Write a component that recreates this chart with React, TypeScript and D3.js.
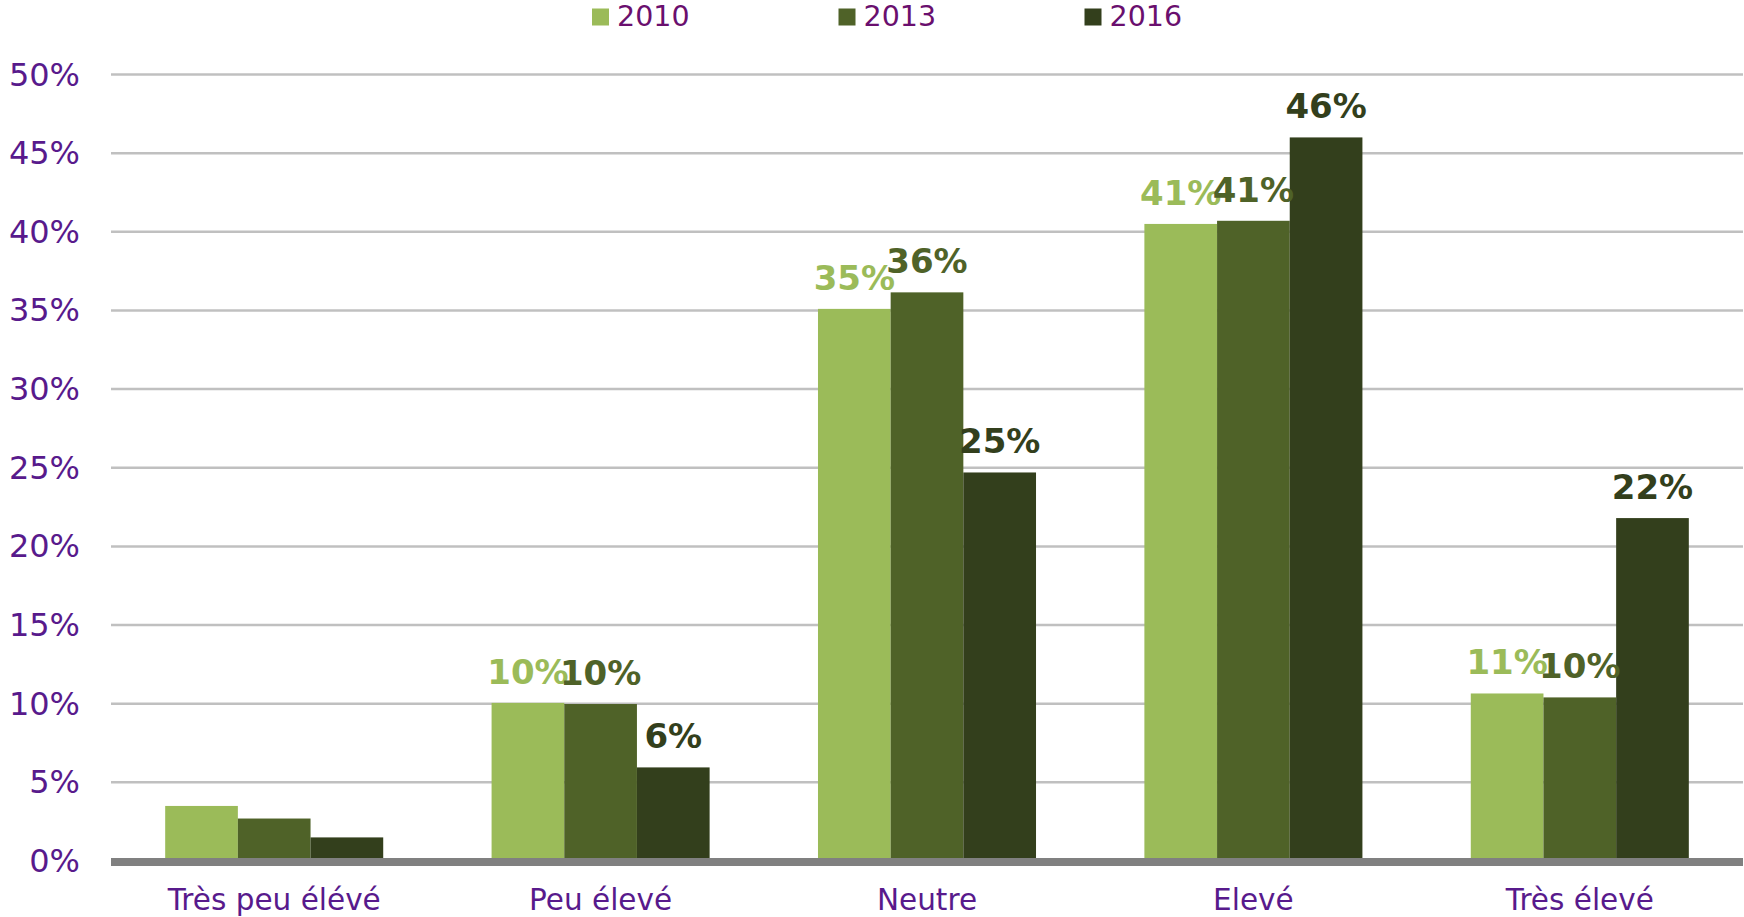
import React, { useEffect, useRef } from 'react';
import * as d3 from 'd3';

// data
const categories = ['Très peu élévé', 'Peu élevé', 'Neutre', 'Elevé', 'Très élevé'];
const seriesNames = ['2010', '2013', '2016'];
const values2010 = [0.035, 0.1005, 0.351, 0.405, 0.1065];
const values2013 = [0.027, 0.0998, 0.3615, 0.407, 0.104];
const values2016 = [0.015, 0.0595, 0.247, 0.46, 0.218];
const showLabels = [false, true, true, true, true];
const yTicks = [0, 0.05, 0.1, 0.15, 0.2, 0.25, 0.3, 0.35, 0.4, 0.45, 0.5];

const colors = ['#9bbb59', '#4f6228', '#333f1c'];
const FONT = '"DejaVu Sans", Verdana, sans-serif';

const App = () => {
  const svgRef = useRef<SVGSVGElement | null>(null);
  const width = 1744;
  const height = 917;

  useEffect(() => {
    const svg = d3.select(svgRef.current);
    svg.selectAll('*').remove();

    const left = 111;
    const right = 1743;
    const zeroY = 861;
    const topY = 74.5;

    const series = [values2010, values2013, values2016];

    const x0 = d3.scaleBand<string>()
      .domain(categories)
      .range([left, right])
      .paddingInner(0.332)
      .paddingOuter(0.166);

    const x1 = d3.scaleBand<string>()
      .domain(seriesNames)
      .range([0, x0.bandwidth()]);

    const y = d3.scaleLinear().domain([0, 0.5]).range([zeroY, topY]);

    // gridlines
    svg.append('g')
      .selectAll('line')
      .data(yTicks.filter(t => t > 0))
      .enter()
      .append('line')
      .attr('x1', left)
      .attr('x2', right)
      .attr('y1', d => y(d))
      .attr('y2', d => y(d))
      .attr('stroke', '#c0c0c0')
      .attr('stroke-width', 2.5);

    // tick labels
    svg.append('g')
      .selectAll('text')
      .data(yTicks)
      .enter()
      .append('text')
      .attr('x', 80)
      .attr('y', d => y(d) + 11)
      .attr('text-anchor', 'end')
      .attr('font-family', FONT)
      .attr('font-size', 32)
      .attr('fill', '#581a8c')
      .text(d => d3.format('.0%')(d));

    // bars
    const groups = svg.append('g')
      .selectAll('g')
      .data(categories)
      .enter()
      .append('g')
      .attr('transform', d => `translate(${x0(d)},0)`);

    groups.selectAll('rect')
      .data((d, i) => series.map((s, k) => ({ name: seriesNames[k], value: s[i], k })))
      .enter()
      .append('rect')
      .attr('x', d => x1(d.name) as number)
      .attr('y', d => y(d.value))
      .attr('width', x1.bandwidth())
      .attr('height', d => zeroY - y(d.value))
      .attr('fill', d => colors[d.k]);

    // category axis line
    svg.append('line')
      .attr('x1', left)
      .attr('x2', right)
      .attr('y1', zeroY + 1)
      .attr('y2', zeroY + 1)
      .attr('stroke', '#808080')
      .attr('stroke-width', 8);

    // category labels
    svg.append('g')
      .selectAll('text')
      .data(categories)
      .enter()
      .append('text')
      .attr('x', d => (x0(d) as number) + x0.bandwidth() / 2)
      .attr('y', 910)
      .attr('text-anchor', 'middle')
      .attr('font-family', FONT)
      .attr('font-size', 29.5)
      .attr('fill', '#581a8c')
      .text(d => d);

    // data labels, drawn per series so later ones overlap earlier ones
    const labels = svg.append('g');
    series.forEach((s, k) => {
      labels.selectAll(`.lbl-${k}`)
        .data(categories.map((c, i) => ({ c, v: s[i], show: showLabels[i] })).filter(d => d.show))
        .enter()
        .append('text')
        .attr('class', `lbl-${k}`)
        .attr('x', d => (x0(d.c) as number) + (x1(seriesNames[k]) as number) + x1.bandwidth() / 2)
        .attr('y', d => y(d.v) - 19)
        .attr('text-anchor', 'middle')
        .attr('font-family', FONT)
        .attr('font-weight', 'bold')
        .attr('font-size', 34)
        .attr('fill', colors[k])
        .text(d => `${Math.round(d.v * 100)}%`);
    });

    // legend
    const legendX = [592, 838.5, 1084.5];
    const legend = svg.append('g')
      .selectAll('g')
      .data(seriesNames)
      .enter()
      .append('g')
      .attr('transform', (d, i) => `translate(${legendX[i]},0)`);

    legend.append('rect')
      .attr('x', 0)
      .attr('y', 8.5)
      .attr('width', 17)
      .attr('height', 17)
      .attr('fill', (d, i) => colors[i]);

    legend.append('text')
      .attr('x', 25)
      .attr('y', 26)
      .attr('font-family', FONT)
      .attr('font-size', 28.5)
      .attr('fill', '#6a0f6e')
      .text(d => d);
  }, []);

  return (
    <div style={{ position: 'fixed', left: 0, top: 0, background: '#fff' }}>
      <svg ref={svgRef} width={width} height={height}></svg>
    </div>
  );
};

export default App;
